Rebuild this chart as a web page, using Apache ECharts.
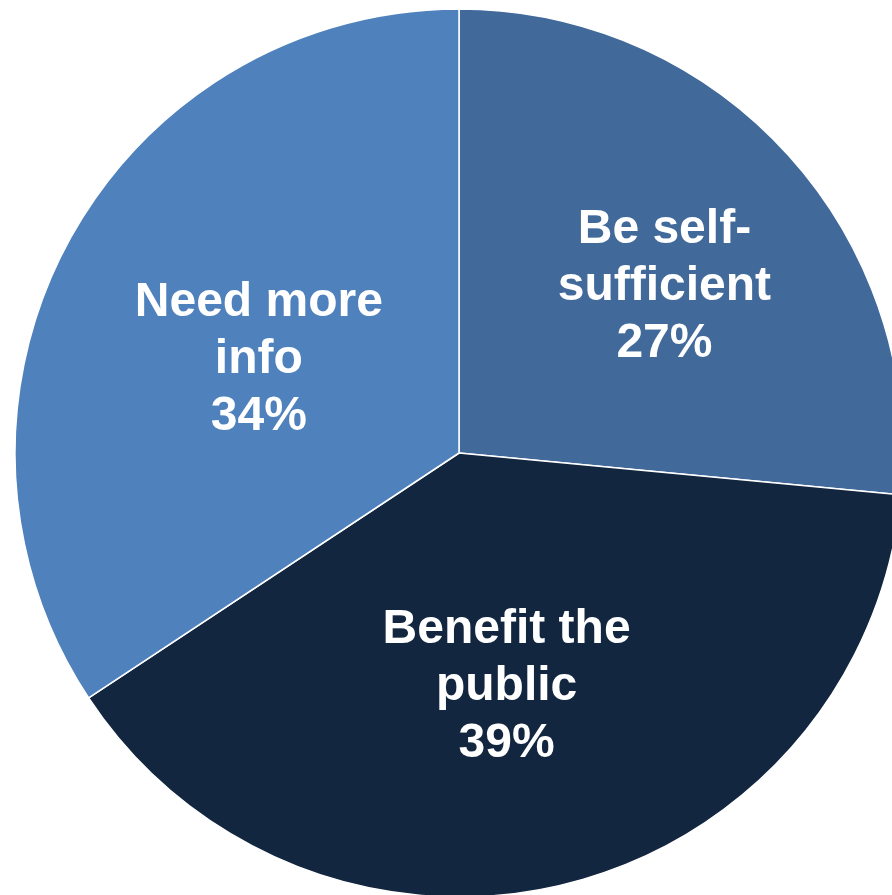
<!DOCTYPE html>
<html>
<head>
<meta charset="utf-8">
<script src="https://cdn.jsdelivr.net/npm/echarts@6/dist/echarts.min.js"></script>
<style>
html,body{margin:0;padding:0;background:#ffffff;}
#chart{width:892px;height:895px;}
</style>
</head>
<body>
<div id="chart"></div>
<script>
const categories = ["Be self-\nsufficient", "Benefit the\npublic", "Need more\ninfo"];
const values = [26.5, 39.2, 34.3];
const percentLabels = ["27%", "39%", "34%"];
const colors = ["#416A9B", "#13263F", "#4F81BD"];
const labelOffsets = [[39, -15], [-7, 15], [-2, 13]];

const chart = echarts.init(document.getElementById('chart'), null, {renderer: 'canvas'});
chart.setOption({
  animation: false,
  backgroundColor: '#ffffff',
  series: [{
    type: 'pie',
    center: [459, 453],
    radius: [0, 444],
    startAngle: 90,
    clockwise: true,
    avoidLabelOverlap: false,
    itemStyle: {borderColor: '#ffffff', borderWidth: 1.5},
    label: {
      show: true,
      position: 'inside',
      formatter: p => p.name + '\n' + percentLabels[p.dataIndex],
      color: '#ffffff',
      fontFamily: '"Liberation Sans", Arial, sans-serif',
      fontWeight: 'bold',
      fontSize: 48,
      lineHeight: 57,
      align: 'center'
    },
    labelLine: {show: false},
    emphasis: {disabled: true},
    data: categories.map((c, i) => ({
      name: c, value: values[i],
      itemStyle: {color: colors[i]},
      label: {offset: labelOffsets[i]}
    }))
  }]
});
</script>
</body>
</html>
